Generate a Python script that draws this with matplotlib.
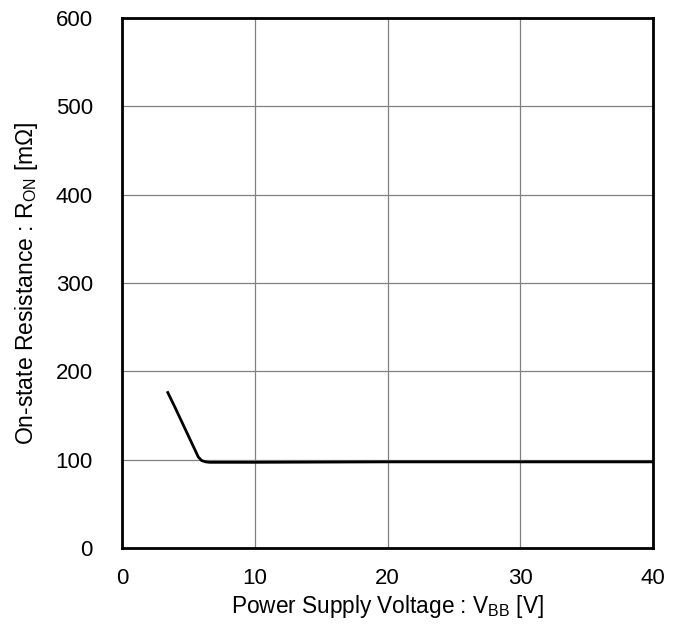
import matplotlib
matplotlib.use("Agg")
import matplotlib.pyplot as plt

plt.rcParams['font.family'] = ['Liberation Sans', 'DejaVu Sans']
plt.rcParams['mathtext.fontset'] = 'custom'
plt.rcParams['mathtext.rm'] = 'Liberation Sans'
plt.rcParams['mathtext.it'] = 'Liberation Sans'

vbb = [3.45, 4.0, 4.5, 5.0, 5.5, 5.75, 6.0, 6.3, 6.6, 7.0, 10, 20, 30, 40]
ron = [176, 159, 143, 127, 111, 103, 99, 97.5, 97, 97, 97, 97.5, 97.5, 97.5]

xticks = [0, 10, 20, 30, 40]
yticks = [0, 100, 200, 300, 400, 500, 600]

fig = plt.figure(figsize=(6.83, 6.28), dpi=100)
ax = fig.add_axes([0.1786, 0.1274, 0.9561 - 0.1786, 0.9713 - 0.1274])
ax.plot(vbb, ron, color='black', linewidth=2, solid_joinstyle='round')
ax.set_xlim(0, 40)
ax.set_ylim(0, 600)
ax.set_xticks(xticks)
ax.set_yticks(yticks)
ax.grid(True, color='#808080', linewidth=0.9)
ax.set_axisbelow(True)
ax.tick_params(length=0, labelsize=16)
ax.tick_params(axis='x', pad=14.5)
ax.tick_params(axis='y', pad=21)
for s in ax.spines.values():
    s.set_linewidth(2)
    s.set_color('black')
ax.set_xlabel(r'Power Supply Voltage : V$\mathregular{_{BB}}$ [V]', fontsize=16.3, labelpad=3)
ax.set_ylabel(r'On-state Resistance : R$\mathregular{_{ON}}$ [m$\Omega$]', fontsize=16.5, labelpad=11)
fig.savefig('out.png', dpi=100)
